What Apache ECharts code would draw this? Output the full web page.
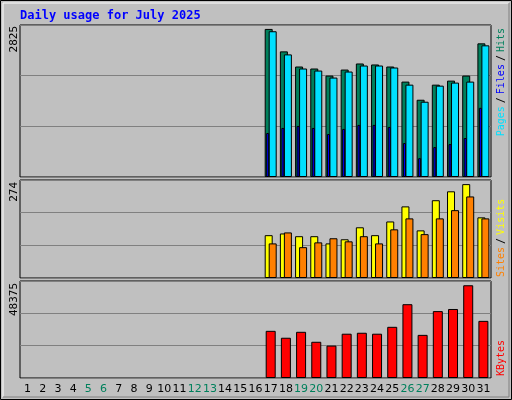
<!DOCTYPE html>
<html><head><meta charset="utf-8">
<script src="https://cdn.jsdelivr.net/npm/echarts@6/dist/echarts.min.js"></script>
<style>html,body{margin:0;padding:0;background:#c0c0c0}#c{width:512px;height:400px}</style>
</head><body><div id="c"></div>
<script>
const days = Array.from({length:31},(_,i)=>String(i+1));
const weekendDays = ['5','6','12','13','19','20','26','27'];
const N = null;
const pad = Array(16).fill(N);
const hits   = pad.concat([2825,2397,2108,2070,1935,2050,2166,2147,2108,1820,1474,1762,1839,1935,2550]);
const pages  = pad.concat([2781,2339,2070,2031,1897,2012,2127,2127,2089,1762,1436,1743,1801,1820,2512]);
const files  = pad.concat([840,936,974,936,820,917,994,994,955,648,359,571,628,744,1320]);
const visits = pad.concat([125,130,122,122,101,113,148,125,165,209,139,227,253,274,177]);
const sites  = pad.concat([101,133,90,104,116,107,122,101,142,174,128,174,198,238,174]);
const kbytes = pad.concat([24600,21000,24100,18900,16900,23100,23600,23100,26700,38500,22500,34900,36000,48375,29800]);
const maxLabels = ['2825','274','48375'];
const axisMax = [2900, 286, 50600];

const chart = echarts.init(document.getElementById('c'), null, {renderer:'canvas'});
const mono = 'DejaVu Sans Mono';
const grids = [
  {left:20,right:21,top:25,height:152},
  {left:20,right:21,top:180,height:98},
  {left:20,right:21,top:281,height:97}
].map(g=>Object.assign(g,{show:true,backgroundColor:'#c0c0c0',borderColor:'#000',borderWidth:1}));
function xa(gi, show){
  return {type:'category',gridIndex:gi,data:days,boundaryGap:true,
    axisLine:{show:false},axisTick:{show:false},splitLine:{show:false},
    axisLabel:{show:show,interval:0,margin:6,fontFamily:'DejaVu Sans',fontSize:11,
      color:(v)=>weekendDays.includes(v)?'#00805c':'#000'}};
}
function ya(gi){
  return {type:'value',gridIndex:gi,min:0,max:axisMax[gi],interval:axisMax[gi]/3,
    axisLabel:{show:false},axisLine:{show:false},axisTick:{show:false},
    splitLine:{show:true,lineStyle:{color:'#808080',width:1}}};
}
const bs = (c)=>({color:c,borderColor:'#000',borderWidth:1});
chart.setOption({
  backgroundColor:'#c0c0c0',
  animation:false,
  grid:grids,
  xAxis:[xa(0,false),xa(0,false),xa(1,false),xa(2,true)],
  yAxis:[ya(0),ya(1),ya(2)],
  series:[
    {name:'Hits',type:'bar',xAxisIndex:0,yAxisIndex:0,data:hits,barWidth:8,barGap:'-50%',itemStyle:bs('#00805c')},
    {name:'Pages',type:'bar',xAxisIndex:0,yAxisIndex:0,data:pages,barWidth:8,barGap:'-50%',itemStyle:bs('#00e0ff')},
    {name:'Files',type:'bar',xAxisIndex:1,yAxisIndex:0,data:files,barWidth:3,barGap:'100%',itemStyle:bs('#0000ff'),z:5},
    {name:'dummy',type:'bar',xAxisIndex:1,yAxisIndex:0,data:Array(31).fill(N),barWidth:3,barGap:'100%'},
    {name:'Visits',type:'bar',xAxisIndex:2,yAxisIndex:1,data:visits,barWidth:8,barGap:'-50%',itemStyle:bs('#ffff00')},
    {name:'Sites',type:'bar',xAxisIndex:2,yAxisIndex:1,data:sites,barWidth:8,barGap:'-50%',itemStyle:bs('#ff8000')},
    {name:'KBytes',type:'bar',xAxisIndex:3,yAxisIndex:2,data:kbytes,barWidth:10,itemStyle:bs('#ff0000')}
  ],
  graphic:[
    {type:'rect',shape:{x:0.5,y:0.5,width:511,height:399},style:{fill:null,stroke:'#000',lineWidth:1},silent:true},
    {type:'polyline',shape:{points:[[3,397],[3,3],[509,3]]},style:{fill:null,stroke:'#fff',lineWidth:1},silent:true},
    {type:'polyline',shape:{points:[[3,397],[509,397],[509,3]]},style:{fill:null,stroke:'#808080',lineWidth:1},silent:true},
    {type:'text',x:20,y:16,style:{text:'Daily usage for July 2025',fill:'#0000ff',font:'bold 12px '+mono,verticalAlign:'middle'}},
    {type:'text',x:14,y:26,rotation:Math.PI/2,style:{text:maxLabels[0],fill:'#000',font:'11px '+mono,align:'right',verticalAlign:'middle'}},
    {type:'text',x:14,y:182,rotation:Math.PI/2,style:{text:maxLabels[1],fill:'#000',font:'11px '+mono,align:'right',verticalAlign:'middle'}},
    {type:'text',x:14,y:283,rotation:Math.PI/2,style:{text:maxLabels[2],fill:'#000',font:'11px '+mono,align:'right',verticalAlign:'middle'}},
    {type:'text',x:501,y:28,rotation:Math.PI/2,style:{text:'{p|Pages}{s|/}{f|Files}{s|/}{h|Hits}',align:'right',verticalAlign:'middle',
      font:'10px '+mono,rich:{p:{fill:'#00e0ff',font:'10px '+mono},s:{fill:'#000',font:'10px '+mono,padding:[0,3]},f:{fill:'#0000ff',font:'10px '+mono},h:{fill:'#00805c',font:'10px '+mono}}}},
    {type:'text',x:501,y:277,rotation:Math.PI/2,style:{text:'{a|Sites}{s|/}{b|Visits}',align:'left',verticalAlign:'middle',
      font:'10px '+mono,rich:{a:{fill:'#ff8000',font:'10px '+mono},s:{fill:'#000',font:'10px '+mono,padding:[0,3]},b:{fill:'#ffff00',font:'10px '+mono}}}},
    {type:'text',x:501,y:376,rotation:Math.PI/2,style:{text:'KBytes',fill:'#ff0000',font:'10px '+mono,align:'left',verticalAlign:'middle'}}
  ]
});
</script></body></html>
